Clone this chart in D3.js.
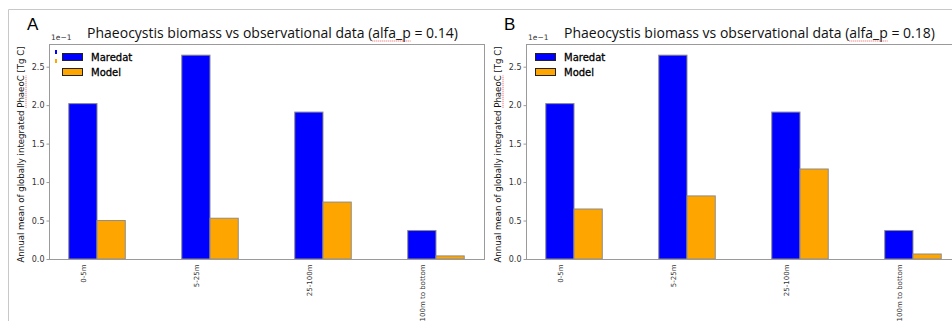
<!DOCTYPE html>
<html>
<head>
<meta charset="utf-8">
<script src="https://cdn.jsdelivr.net/npm/d3@7"></script>
<style>
  body { margin: 0; background: #fff; }
  svg { display: block; }
  .tick text { font-family: "DejaVu Sans", sans-serif; fill: #333; }
</style>
</head>
<body>
<svg id="fig" width="952" height="321"></svg>
<script>
// data (values in units of 1e-1 Tg C)
const categories = ['0-5m', '5-25m', '25-100m', '100m to bottom'];
const maredat = [2.02, 2.65, 1.91, 0.37];
const modelA = [0.50, 0.53, 0.74, 0.04];
const modelB = [0.65, 0.82, 1.17, 0.065];
const yTicks = [0, 0.5, 1.0, 1.5, 2.0, 2.5];
const panels = [
  { label: 'A', alfa: '0.14', model: modelA, left: 49, marks: true },
  { label: 'B', alfa: '0.18', model: modelB, left: 526, marks: false },
];

const svg = d3.select('#fig');
const W = 435, yTop = 44, yBottom = 259;
const barW = 0.25;
const blue = '#0000ff', orange = '#ffa500';

// page frame of the document the figure sits in
svg.append('path')
  .attr('d', 'M8.5,321V9.5H952')
  .attr('fill', 'none').attr('stroke', '#c8c8c8');

function measure(textSel, sub) { // where a substring sits inside a text node
  const node = textSel.node();
  const i = node.textContent.indexOf(sub);
  return {
    x0: node.getSubStringLength(0, i),
    len: node.getSubStringLength(i, sub.length),
    total: node.getComputedTextLength(),
  };
}

panels.forEach(p => {
  const g = svg.append('g').attr('transform', `translate(${p.left},0)`);

  const x = d3.scaleLinear().domain([-0.3, 3.55]).range([0, W]);
  const y = d3.scaleLinear().domain([0, 2.795]).range([yBottom, yTop]);

  // bars
  const bars = categories.map((c, i) => ({ i, m: maredat[i], o: p.model[i] }));
  g.selectAll('.bar-m').data(bars).join('rect')
    .attr('class', 'bar-m')
    .attr('x', d => x(d.i - barW / 2))
    .attr('width', x(barW) - x(0))
    .attr('y', d => y(d.m))
    .attr('height', d => y(0) - y(d.m))
    .attr('fill', blue).attr('stroke', '#8c8c8c').attr('stroke-width', 1);
  g.selectAll('.bar-o').data(bars).join('rect')
    .attr('class', 'bar-o')
    .attr('x', d => x(d.i + barW / 2))
    .attr('width', x(barW) - x(0))
    .attr('y', d => y(d.o))
    .attr('height', d => y(0) - y(d.o))
    .attr('fill', orange).attr('stroke', '#8c8c8c').attr('stroke-width', 1);

  // spines
  g.append('rect')
    .attr('x', 0.5).attr('y', yTop + 0.5)
    .attr('width', W).attr('height', yBottom - yTop)
    .attr('fill', 'none').attr('stroke', '#9a9a9a').attr('stroke-width', 1);

  // y axis
  const yAxis = d3.axisLeft(y).tickValues(yTicks).tickFormat(d3.format('.1f')).tickSize(3).tickPadding(2);
  const ya = g.append('g').attr('transform', 'translate(0.5,0)').call(yAxis);
  ya.select('.domain').remove();
  ya.selectAll('.tick line').attr('stroke', '#9a9a9a');
  ya.selectAll('.tick text').attr('font-size', 8);

  // x axis with rotated labels
  const xAxis = d3.axisBottom(x).tickValues(d3.range(categories.length))
    .tickFormat(i => categories[i]).tickSize(0);
  const xa = g.append('g').attr('transform', `translate(0,${yBottom + 0.5})`).call(xAxis);
  xa.select('.domain').remove();
  xa.selectAll('.tick text')
    .attr('font-size', 7)
    .attr('text-anchor', 'end')
    .attr('transform', 'translate(0,5) rotate(-90)')
    .attr('x', 0).attr('y', 0).attr('dy', '0.32em');

  // offset text
  g.append('text')
    .attr('x', 2).attr('y', 40)
    .attr('font-family', 'DejaVu Sans').attr('font-size', 7.5).attr('fill', '#333')
    .text('1e\u22121');

  // y label
  const ylPos = `translate(-25,${(yTop + yBottom) / 2 + 3}) rotate(-90)`;
  const yl = g.append('text')
    .attr('transform', ylPos)
    .attr('text-anchor', 'middle')
    .attr('font-family', 'DejaVu Sans').attr('font-size', 8.6).attr('fill', '#111')
    .text('Annual mean of globally integrated PhaeoC [Tg C]');
  const u1 = measure(yl, 'PhaeoC');
  g.append('line')
    .attr('transform', ylPos)
    .attr('x1', -u1.total / 2 + u1.x0).attr('x2', -u1.total / 2 + u1.x0 + u1.len)
    .attr('y1', 2).attr('y2', 2)
    .attr('stroke', '#e03030').attr('stroke-width', 0.8).attr('stroke-dasharray', '1,1');

  // legend
  const leg = g.append('g').attr('transform', `translate(${p.marks ? 13 : 9},0)`);
  [['Maredat', blue, 53], ['Model', orange, 68]].forEach(([name, col, yy]) => {
    leg.append('rect').attr('x', 0.5).attr('y', yy + 0.5).attr('width', 20).attr('height', 7)
      .attr('fill', col).attr('stroke', '#222').attr('stroke-width', 1);
    leg.append('text').attr('x', 29).attr('y', yy + 7.5)
      .attr('font-family', 'DejaVu Sans').attr('font-size', 10).attr('fill', '#000')
      .attr('stroke', '#000').attr('stroke-width', 0.3)
      .text(name);
  });
  if (p.marks) {
    g.append('rect').attr('x', 6).attr('y', 50).attr('width', 2).attr('height', 4).attr('fill', blue);
    g.append('rect').attr('x', 6).attr('y', 59).attr('width', 2).attr('height', 4).attr('fill', orange);
  }

  // panel letter
  svg.append('text')
    .attr('x', p.left - 22).attr('y', 30)
    .attr('font-family', 'Liberation Sans, Arial, sans-serif').attr('font-size', 17).attr('fill', '#000')
    .text(p.label);

  // title
  const tcx = W / 2 + 6;
  const title = g.append('text')
    .attr('x', tcx).attr('y', 37.5)
    .attr('text-anchor', 'middle')
    .attr('font-family', 'Open Sans, sans-serif').attr('font-size', 14).attr('fill', '#111')
    .text(`Phaeocystis biomass vs observational data (alfa_p = ${p.alfa})`);
  const u2 = measure(title, 'alfa_p');
  const tx = tcx - u2.total / 2;
  g.append('line')
    .attr('x1', tx + u2.x0).attr('x2', tx + u2.x0 + u2.len)
    .attr('y1', 41).attr('y2', 41)
    .attr('stroke', '#e03030').attr('stroke-width', 0.8).attr('stroke-dasharray', '1,1');
});
</script>
</body>
</html>
